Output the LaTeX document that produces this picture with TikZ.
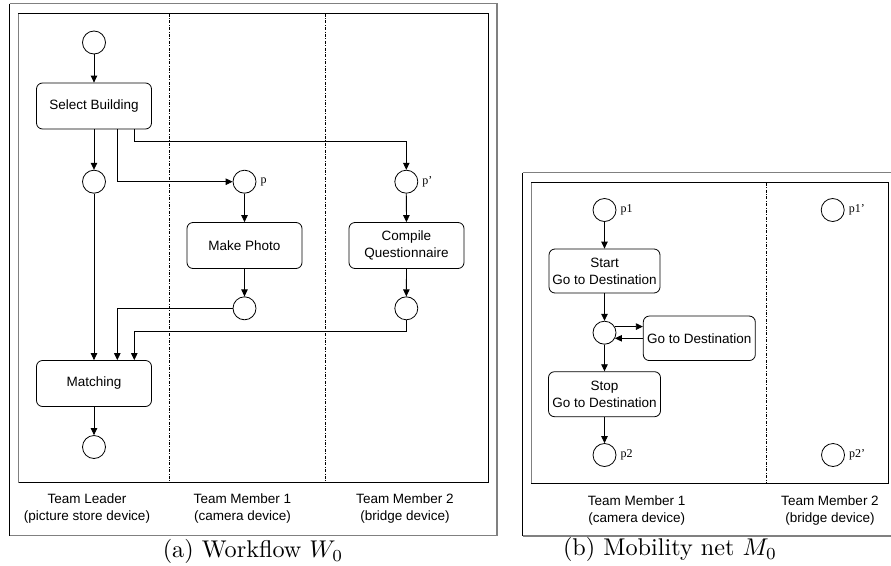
\documentclass[tikz,border=0pt]{standalone}
\usepackage{fontspec}
\usepackage{graphicx}
\setsansfont{Liberation Sans}
\newfontfamily\placefont{Liberation Serif}
\usetikzlibrary{arrows,arrows.meta,calc}

\begin{document}
\begin{tikzpicture}[x=1pt,y=-1pt,cap=butt]
\tikzstyle{place}=[circle,draw,line width=0.8pt,minimum size=23pt,inner sep=0pt]
\tikzstyle{task}=[rectangle,rounded corners=6pt,draw,line width=0.8pt,align=center,
  minimum width=115pt,minimum height=46pt,inner sep=0pt,
  font=\sffamily\fontsize{13.5}{17}\selectfont]
\tikzstyle{flow}=[line width=0.8pt,-{Triangle[length=7pt,width=6.5pt]}]
\tikzstyle{lane}=[line width=0.6pt,dash pattern=on 3pt off 1.5pt on 0.8pt off 1.5pt]
\tikzstyle{shade}=[line width=1.5pt,color=black!50]
\tikzstyle{role}=[align=center,font=\sffamily\fontsize{13.5}{17.3}\selectfont]
\tikzstyle{tag}=[font=\placefont\fontsize{12}{12}\selectfont,inner sep=1pt,label distance=3pt]
\useasboundingbox (0,0) rectangle (891,565);

% (a) workflow W0
\draw[shade] (9.5,3.5) -- (497,3.5) -- (497,535.5) -- (9.5,535.5);
\draw[line width=0.8pt] (9.5,3.5) -- (9.5,535.5);
\draw[line width=0.8pt] (18.5,13.5) rectangle (488,482.5);
\draw[shade] (18.5,13.5) -- (18.5,482.5);
\foreach \x in {169.5,325.7}
	\draw[lane] (\x,13.5) -- (\x,482.5);

\node[place] (W0) at (94,42.5) {};
\node[task] (SB) at (94,106) {Select Building};
\node[place] (W1) at (94,181.7) {};
\node[place,label={[tag]0:p}] (P) at (244.5,181.7) {};
\node[place,label={[tag]0:p’}] (Q) at (406.3,181.7) {};
\node[task] (MP) at (244.5,245.5) {Make Photo};
\node[task] (CQ) at (406.5,245.5) {Compile\\Questionnaire};
\node[place] (P3) at (244.5,308.3) {};
\node[place] (Q3) at (406.3,308.3) {};
\node[task] (MA) at (94,383.5) {Matching};
\node[place] (W2) at (94,447) {};

\coordinate (SBa) at ($(SB.south)+(23.3,0)$);
\coordinate (SBb) at ($(SB.south)+(40.3,0)$);
\coordinate (MAa) at ($(MA.north)+(23.3,0)$);
\coordinate (MAb) at ($(MA.north)+(40.3,0)$);

\draw[flow] (W0) -- (SB);
\draw[flow] (SB) -- (W1);
\draw[flow] (SBa) |- (P);
\draw[flow] (SBb) -- ++(0,11.7) -| (Q);
\draw[flow] (P) -- (MP);
\draw[flow] (Q) -- (CQ);
\draw[flow] (MP) -- (P3);
\draw[flow] (CQ) -- (Q3);
\draw[flow] (W1) -- (MA);
\draw[flow] (P3.west) -| (MAa);
\draw[flow] (Q3.south) -- ++(0,11.2) -| (MAb);
\draw[flow] (MA) -- (W2);

\node[role] (TL) at (87,508.7) {Team Leader\\(picture store device)};
\node[role] (T1) at (242.5,508.7) {Team Member 1\\(camera device)};
\node[role] (T2) at (405,508.7) {Team Member 2\\(bridge device)};
\node (CA) at (253,551.5) {\scalebox{2.42}{(a) Workflow $W_0$}};

% (b) mobility net M0
\draw[shade] (892,172.5) -- (522.7,172.5);
\draw[shade] (522.7,536) -- (892,536);
\draw[line width=0.8pt] (522.7,172.5) -- (522.7,536);
\draw[line width=0.8pt] (531.7,182.7) rectangle (888,483.3);
\draw[shade] (531.7,182.7) -- (531.7,483.3);
\draw[lane] (766.7,182.7) -- (766.7,483.3);

\node[place,label={[tag]0:p1}] (M1) at (604.5,210) {};
\node[place,label={[tag]0:p1’}] (N1) at (832.7,210) {};
\node[task,minimum width=111pt,minimum height=44pt] (ST) at (604.5,271) {Start\\Go to Destination};
\node[place] (ML) at (604.5,332.7) {};
\node[task,minimum width=112pt,minimum height=44.5pt] (GD) at (699.3,338.3) {Go to Destination};
\node[task,minimum width=112pt,minimum height=45pt] (SP) at (604.5,394.2) {Stop\\Go to Destination};
\node[place,label={[tag]0:p2}] (M2) at (604.5,455) {};
\node[place,label={[tag]0:p2’}] (N2) at (833,455) {};

\draw[flow] (M1) -- (ST);
\draw[flow] (ST) -- (ML);
\draw[flow] (ML.31) -- (ML.31 -| GD.west);
\draw[flow] (GD.west) -- (ML.-29 |- GD.west);
\draw[flow] (ML) -- (SP);
\draw[flow] (SP) -- (M2);

\node[role] (U1) at (636.7,510.3) {Team Member 1\\(camera device)};
\node[role] (U2) at (830,510.3) {Team Member 2\\(bridge device)};
\node (CB) at (670,549.5) {\scalebox{2.42}{(b) Mobility net $M_0$}};
\end{tikzpicture}
\end{document}
